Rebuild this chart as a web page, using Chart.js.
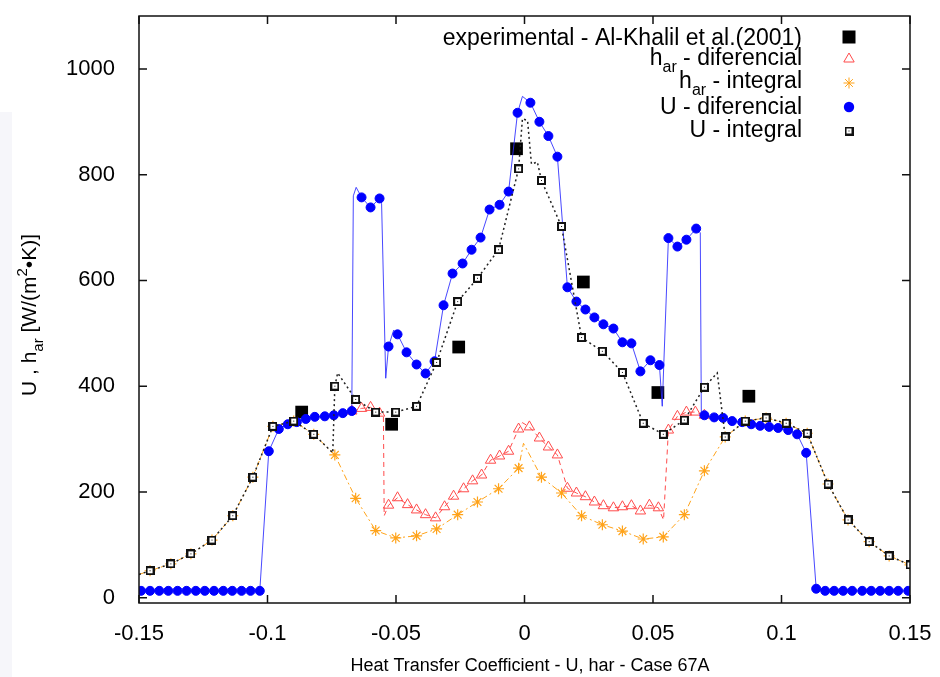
<!DOCTYPE html>
<html>
<head>
<meta charset="utf-8">
<title>Heat Transfer Coefficient - U, har - Case 67A</title>
<script src="https://cdn.jsdelivr.net/npm/chart.js@4.4.1/dist/chart.umd.min.js"></script>
<style>
  html, body { margin: 0; padding: 0; background: #fff; }
  #wrap { position: relative; width: 940px; height: 677px; }
</style>
</head>
<body>
<div id="wrap"><canvas id="htcChart" width="940" height="677"></canvas></div>
<script>
const FONT = '"Liberation Sans", Arial, sans-serif';

const xTicks = [-0.15, -0.1, -0.05, 0, 0.05, 0.1, 0.15];
const yTicks = [0, 200, 400, 600, 800, 1000];

// experimental - Al-Khalil et al.(2001)
const expX = [-0.0867, -0.0517, -0.0256, -0.0031, 0.0229, 0.0519, 0.0873];
const expY = [351, 328, 474, 849, 597, 388, 381];

// h_ar - diferencial (markers)
const hDifX = [-0.0672, -0.0634, -0.0599, -0.0564, -0.0529, -0.0494, -0.0455, -0.0420, -0.0385, -0.0346,
  -0.0311, -0.0276, -0.0237, -0.0202, -0.0167, -0.0132, -0.0097, -0.0062, -0.0023, 0.0019,
  0.0058, 0.0093, 0.0128, 0.0167, 0.0202, 0.0237, 0.0272, 0.0307, 0.0346, 0.0381,
  0.0416, 0.0451, 0.0486, 0.0521, 0.0560, 0.0595, 0.0630, 0.0665, 0.0700];
const hDifY = [353, 358, 360, 349, 175, 189, 176, 166, 157, 151,
  172, 192, 206, 221, 232, 260, 268, 277, 319, 323,
  302, 285, 270, 207, 198, 191, 181, 174, 170, 172,
  174, 164, 175, 170, 317, 343, 351, 351, 345];
// extra vertices of the dashed curve
const hDifCurveX = [-0.0549, -0.0546, -0.0008, 0.0541];
const hDifCurveY = [345, 155, 331, 147];

// h_ar - integral (markers)
const hIntX = [-0.1457, -0.1376, -0.1298, -0.1216, -0.1135, -0.1057, -0.0979, -0.0898, -0.0820, -0.0738,
  -0.0657, -0.0579, -0.0501, -0.0420, -0.0342, -0.0260, -0.0183, -0.0101, -0.0023, 0.0066,
  0.0144, 0.0222, 0.0303, 0.0381, 0.0462, 0.0540, 0.0622, 0.0700, 0.0781, 0.0859,
  0.0940, 0.1018, 0.1100, 0.1181, 0.1259, 0.1341, 0.1419, 0.1500];
const hIntY = [51, 64, 83, 109, 155, 228, 324, 334, 309, 270,
  188, 127, 113, 117, 130, 157, 181, 206, 245, 228,
  198, 155, 138, 126, 111, 115, 157, 240, 304, 334,
  340, 330, 311, 215, 147, 106, 79, 62];
const hIntCurveX = [-0.15, -0.0004];
const hIntCurveY = [44, 292];

// U - diferencial (markers)
const uDifX = [-0.1492, -0.1457, -0.1421, -0.1386, -0.1350, -0.1315, -0.1279, -0.1244, -0.1208, -0.1172,
  -0.1137, -0.1101, -0.1066, -0.1030, -0.0995, -0.0956, -0.0921, -0.0886, -0.0851, -0.0816,
  -0.0777, -0.0742, -0.0707, -0.0672, -0.0634, -0.0599, -0.0564, -0.0529, -0.0494, -0.0459,
  -0.0420, -0.0385, -0.0350, -0.0315, -0.0280, -0.0241, -0.0206, -0.0171, -0.0136, -0.0097,
  -0.0062, -0.0027, 0.0023, 0.0058, 0.0093, 0.0128, 0.0167, 0.0202, 0.0237, 0.0272,
  0.0307, 0.0346, 0.0381, 0.0416, 0.0451, 0.0490, 0.0525, 0.0560, 0.0595, 0.0630,
  0.0668, 0.0700, 0.0738, 0.0773, 0.0808, 0.0847, 0.0882, 0.0917, 0.0952, 0.0987,
  0.1026, 0.1061, 0.1096, 0.1135, 0.1170, 0.1205, 0.1240, 0.1275, 0.1314, 0.1349,
  0.1384, 0.1419, 0.1454, 0.1493];
const uDifY = [13, 13, 13, 13, 13, 13, 13, 13, 13, 13,
  13, 13, 13, 13, 277, 319, 328, 332, 338, 342,
  343, 345, 349, 353, 757, 738, 755, 475, 498, 464,
  441, 424, 447, 553, 613, 632, 658, 681, 734, 743,
  768, 917, 936, 900, 873, 834, 587, 560, 545, 530,
  517, 509, 483, 481, 428, 449, 440, 680, 664, 677,
  698, 345, 341, 340, 334, 332, 328, 325, 323, 321,
  317, 309, 274, 17, 13, 13, 13, 13, 13, 13,
  13, 13, 13, 13];
const uDifCurveX = [-0.0666, -0.0655, -0.0556, -0.0540, -0.0509, -0.0008, 0.0536, 0.0684, 0.0688];
const uDifCurveY = [760, 776, 745, 415, 506, 948, 362, 690, 350];

// U - integral (markers)
const uIntX = [-0.1457, -0.1376, -0.1298, -0.1216, -0.1135, -0.1057, -0.0979, -0.0898, -0.0820, -0.0738,
  -0.0657, -0.0579, -0.0501, -0.0420, -0.0342, -0.0260, -0.0183, -0.0101, -0.0023, 0.0066,
  0.0144, 0.0222, 0.0303, 0.0381, 0.0462, 0.0540, 0.0622, 0.0700, 0.0781, 0.0859,
  0.0940, 0.1018, 0.1100, 0.1181, 0.1259, 0.1341, 0.1419, 0.1500];
const uIntY = [51, 64, 83, 109, 155, 228, 324, 334, 309, 400,
  375, 351, 351, 362, 445, 560, 604, 658, 811, 789,
  702, 492, 466, 426, 330, 309, 336, 398, 304, 334,
  340, 330, 311, 215, 147, 106, 79, 62];
const uIntCurveX = [-0.15, -0.0746, -0.0727, -0.0008, 0.0012, 0.0027, 0.0050, 0.0750];
const uIntCurveY = [44, 274, 425, 906, 902, 820, 824, 425];

function pts(xs, ys) {
  return xs.map((x, i) => ({ x: x, y: ys[i] }));
}
function curve(xs, ys, exs, eys) {
  return pts(xs, ys).concat(pts(exs, eys)).sort((a, b) => a.x - b.x);
}

// small open square with a dot for "U - integral"
const sqMark = document.createElement('canvas');
sqMark.width = 9; sqMark.height = 9;
(function () {
  const c = sqMark.getContext('2d');
  c.fillStyle = '#111';
  c.fillRect(0, 0, 9, 9);
  c.fillStyle = '#fff';
  c.fillRect(2, 2, 5, 5);
  c.fillStyle = '#111';
  c.fillRect(4, 4, 1, 1);
})();

const RED = '#ff4a4a';
const ORANGE = '#ffa31a';
const BLUE = '#0000ff';

function drawRich(ctx, parts, x, y, size, align) {
  const fontOf = p => (p.s ? Math.round(size * 0.7) : size) + 'px ' + FONT;
  let w = 0;
  parts.forEach(p => { ctx.font = fontOf(p); w += ctx.measureText(p.t).width; });
  let cx = align === 'right' ? x - w : (align === 'center' ? x - w / 2 : x);
  ctx.textAlign = 'left';
  ctx.textBaseline = 'alphabetic';
  parts.forEach(p => {
    ctx.font = fontOf(p);
    const dy = p.s === 1 ? size * 0.32 : (p.s === -1 ? -size * 0.42 : 0);
    ctx.fillText(p.t, cx, y + dy);
    cx += ctx.measureText(p.t).width;
  });
}

const decorations = {
  id: 'decorations',
  beforeDraw(chart) {
    const ctx = chart.ctx;
    ctx.save();
    ctx.fillStyle = '#f6f6fa';
    ctx.fillRect(0, 112, 12, 565);
    ctx.restore();
  },
  afterDraw(chart) {
    const ctx = chart.ctx;
    const a = chart.chartArea;
    const xs = chart.scales.x, ys = chart.scales.y;
    ctx.save();
    ctx.strokeStyle = '#111';
    ctx.lineWidth = 1.5;
    ctx.strokeRect(a.left, a.top, a.right - a.left, a.bottom - a.top);
    ctx.beginPath();
    xTicks.forEach(v => {
      const px = xs.getPixelForValue(v);
      ctx.moveTo(px, a.bottom); ctx.lineTo(px, a.bottom - 8);
      ctx.moveTo(px, a.top); ctx.lineTo(px, a.top + 8);
    });
    yTicks.forEach(v => {
      const py = ys.getPixelForValue(v);
      ctx.moveTo(a.left, py); ctx.lineTo(a.left + 8, py);
      ctx.moveTo(a.right, py); ctx.lineTo(a.right - 8, py);
    });
    ctx.stroke();

    // legend
    ctx.fillStyle = '#000';
    const tx = 802, sx = 849;
    drawRich(ctx, [{ t: 'experimental - Al-Khalil et al.(2001)' }], tx, 45, 23, 'right');
    drawRich(ctx, [{ t: 'h' }, { t: 'ar', s: 1 }, { t: ' - diferencial' }], tx, 65, 23, 'right');
    drawRich(ctx, [{ t: 'h' }, { t: 'ar', s: 1 }, { t: ' - integral' }], tx, 88, 23, 'right');
    drawRich(ctx, [{ t: 'U - diferencial' }], tx, 114, 23, 'right');
    drawRich(ctx, [{ t: 'U - integral' }], tx, 137, 23, 'right');

    ctx.fillStyle = '#000';
    ctx.fillRect(sx - 6.5, 37 - 6.5, 13, 13);
    ctx.strokeStyle = RED; ctx.lineWidth = 1;
    ctx.beginPath();
    ctx.moveTo(sx, 59 - 6); ctx.lineTo(sx + 5.2, 59 + 3); ctx.lineTo(sx - 5.2, 59 + 3); ctx.closePath();
    ctx.stroke();
    ctx.strokeStyle = ORANGE;
    ctx.beginPath();
    for (let k = 0; k < 4; k++) {
      const ang = k * Math.PI / 4;
      ctx.moveTo(sx - 5.5 * Math.cos(ang), 83 - 5.5 * Math.sin(ang));
      ctx.lineTo(sx + 5.5 * Math.cos(ang), 83 + 5.5 * Math.sin(ang));
    }
    ctx.stroke();
    ctx.fillStyle = BLUE;
    ctx.beginPath(); ctx.arc(sx, 107, 5.2, 0, Math.PI * 2); ctx.fill();
    ctx.drawImage(sqMark, sx - 4.5, 131 - 4.5);

    // axis titles
    ctx.fillStyle = '#000';
    drawRich(ctx, [{ t: 'Heat Transfer Coefficient - U, har - Case 67A' }], 530, 671, 18, 'center');
    ctx.translate(36, 315);
    ctx.rotate(-Math.PI / 2);
    drawRich(ctx, [{ t: 'U , h' }, { t: 'ar', s: 1 }, { t: ' [W/(m' }, { t: '2', s: -1 }, { t: '\u2022K)]' }], 0, 0, 21, 'center');
    ctx.restore();
  }
};

new Chart(document.getElementById('htcChart'), {
  type: 'scatter',
  data: {
    datasets: [
      {
        label: 'experimental - Al-Khalil et al.(2001)',
        data: pts(expX, expY),
        pointStyle: 'rect',
        pointRadius: 9,
        backgroundColor: '#000',
        borderColor: '#000',
        borderWidth: 0,
        order: 10
      },
      {
        label: 'h_ar - diferencial curve',
        data: curve(hDifX, hDifY, hDifCurveX, hDifCurveY),
        showLine: true,
        pointRadius: 0,
        borderColor: RED,
        borderWidth: 1,
        borderDash: [5, 4],
        order: 9
      },
      {
        label: 'h_ar - diferencial',
        data: pts(hDifX, hDifY),
        pointStyle: 'triangle',
        pointRadius: 6,
        borderColor: RED,
        backgroundColor: 'rgba(0,0,0,0)',
        borderWidth: 1,
        order: 8
      },
      {
        label: 'h_ar - integral curve',
        data: curve(hIntX, hIntY, hIntCurveX, hIntCurveY),
        showLine: true,
        pointRadius: 0,
        borderColor: ORANGE,
        borderWidth: 1,
        borderDash: [6, 3, 2, 3],
        order: 7
      },
      {
        label: 'h_ar - integral',
        data: pts(hIntX, hIntY),
        pointStyle: 'star',
        pointRadius: 5.5,
        borderColor: ORANGE,
        borderWidth: 1.2,
        order: 6
      },
      {
        label: 'U - diferencial curve',
        data: curve(uDifX, uDifY, uDifCurveX, uDifCurveY),
        showLine: true,
        pointRadius: 0,
        borderColor: 'rgba(40,40,255,0.85)',
        borderWidth: 1,
        order: 5
      },
      {
        label: 'U - diferencial',
        data: pts(uDifX, uDifY),
        pointStyle: 'circle',
        pointRadius: 4.5,
        backgroundColor: BLUE,
        borderColor: BLUE,
        borderWidth: 1,
        order: 4
      },
      {
        label: 'U - integral curve',
        data: curve(uIntX, uIntY, uIntCurveX, uIntCurveY),
        showLine: true,
        pointRadius: 0,
        borderColor: '#222',
        borderWidth: 1.5,
        borderDash: [2, 3],
        order: 3
      },
      {
        label: 'U - integral',
        data: pts(uIntX, uIntY),
        pointStyle: sqMark,
        pointRadius: 4.5,
        order: 2
      }
    ]
  },
  options: {
    responsive: false,
    animation: false,
    devicePixelRatio: 1,
    layout: { padding: { top: 16, right: 30, left: 0, bottom: 0 } },
    plugins: { legend: { display: false }, tooltip: { enabled: false } },
    elements: { line: { tension: 0 } },
    scales: {
      x: {
        type: 'linear',
        min: -0.15,
        max: 0.15,
        grid: { display: false },
        border: { display: false },
        afterBuildTicks: axis => { axis.ticks = xTicks.map(v => ({ value: v })); },
        afterFit: axis => {
          axis.height = 74;
          axis.paddingLeft = 0;
          axis.paddingRight = 0;
        },
        ticks: {
          color: '#000',
          font: { family: FONT, size: 22 },
          padding: 10,
          maxRotation: 0,
          autoSkip: false,
          callback: v => String(v)
        }
      },
      y: {
        type: 'linear',
        min: -10,
        max: 1100,
        grid: { display: false },
        border: { display: false },
        afterBuildTicks: axis => { axis.ticks = yTicks.map(v => ({ value: v })); },
        afterFit: axis => {
          axis.width = 139;
          axis.paddingTop = 0;
          axis.paddingBottom = 0;
        },
        ticks: {
          color: '#000',
          font: { family: FONT, size: 22 },
          padding: 16,
          callback: v => String(v)
        }
      }
    }
  },
  plugins: [decorations]
});
</script>
</body>
</html>
